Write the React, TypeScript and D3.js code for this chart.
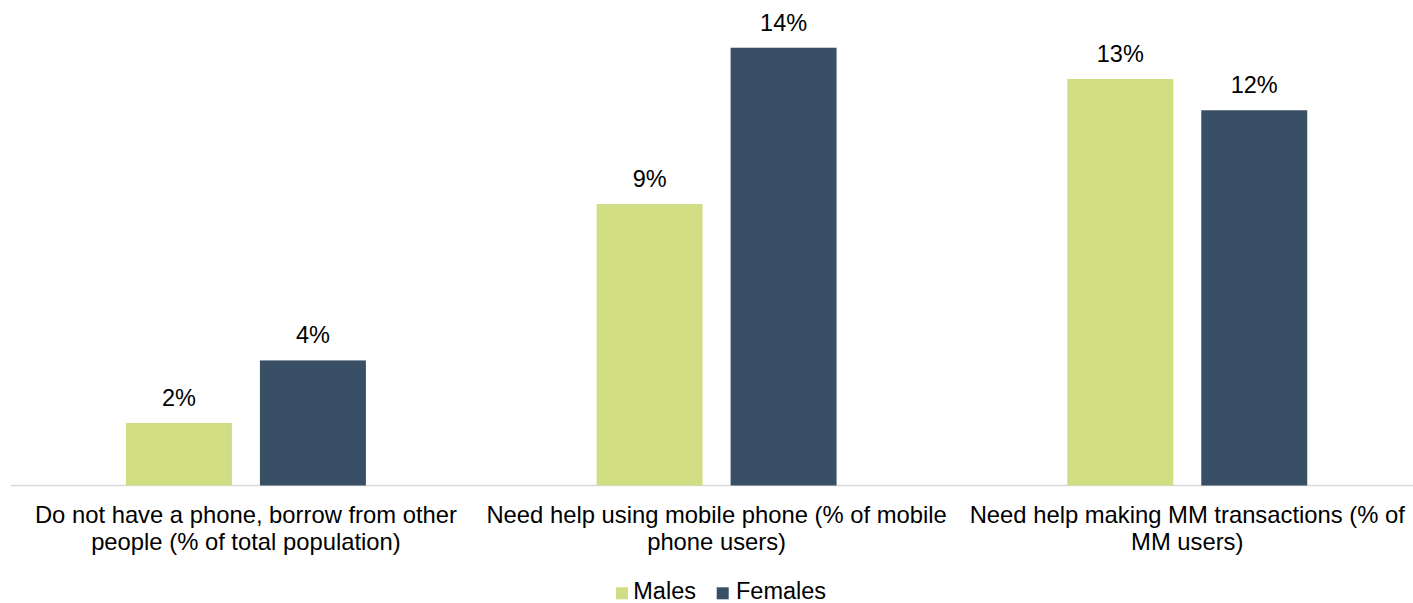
import React from "react";
import * as d3 from "d3";

const categories = [
  "Do not have a phone, borrow from other\npeople (% of total population)",
  "Need help using mobile phone (% of mobile\nphone users)",
  "Need help making MM transactions (% of\nMM users)",
];
const seriesNames = ["Males", "Females"];
const males = [2, 9, 13];
const females = [4, 14, 12];
const colors = ["#D0DD83", "#394F66"];

const W = 1413;
const H = 603;
const FONT = "'Liberation Sans', Arial, Helvetica, sans-serif";

export default function App() {
  const values = [males, females];
  const x0 = d3.scaleBand<string>().domain(categories).range([10.6, 1422.6]).paddingInner(0).paddingOuter(0);
  const x1 = d3.scaleBand<string>().domain(seriesNames).range([0, x0.bandwidth()]).paddingInner(0.209).paddingOuter(0.861);
  const y = d3.scaleLinear().domain([0, 15]).range([485.5, 485.5 - 31.27 * 15]);

  return (
    <svg width={W} height={H} style={{ position: "absolute", left: 0, top: 0, background: "#fff" }} fontFamily={FONT}>
      <line x1={11} x2={W} y1={485.5} y2={485.5} stroke="#d9d9d9" strokeWidth={1.5} />
      {categories.map((c, ci) => (
        <g key={c} transform={`translate(${x0(c)},0)`}>
          {seriesNames.map((s, si) => {
            const v = values[si][ci];
            const bx = x1(s)!;
            return (
              <g key={s}>
                <rect x={bx} y={y(v)} width={x1.bandwidth()} height={y(0) - y(v)} fill={colors[si]} />
                <text x={bx + x1.bandwidth() / 2} y={y(v) - 17} textAnchor="middle" fontSize={23.5} fill="#000">
                  {`${v}%`}
                </text>
              </g>
            );
          })}
          {c.split("\n").map((line, li) => (
            <text key={li} x={x0.bandwidth() / 2} y={523 + li * 27} textAnchor="middle" fontSize={23.8} fill="#000">
              {line}
            </text>
          ))}
        </g>
      ))}
      <g>
        <rect x={616} y={587.3} width={12} height={12} fill={colors[0]} />
        <text x={633.3} y={599.3} fontSize={23.5} fill="#000">{seriesNames[0]}</text>
        <rect x={716.7} y={587.3} width={12} height={12} fill={colors[1]} />
        <text x={736} y={599.3} fontSize={23.5} fill="#000">{seriesNames[1]}</text>
      </g>
    </svg>
  );
}
